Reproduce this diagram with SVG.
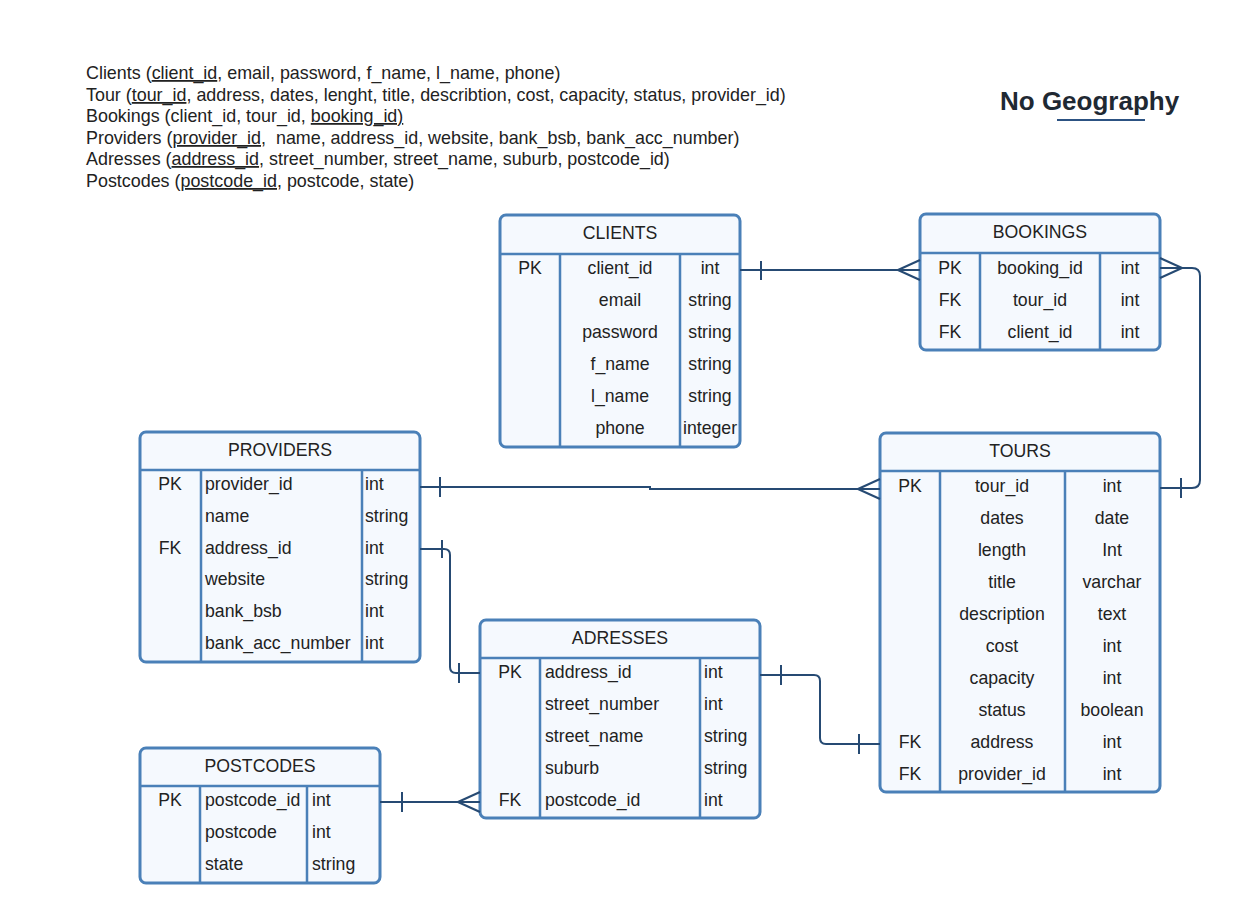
<svg xmlns="http://www.w3.org/2000/svg" width="1260" height="923" viewBox="0 0 1260 923">
<style>
text{font-family:"Liberation Sans",Arial,sans-serif;font-size:17.7px;fill:#222}
.top{font-size:17.9px}
.u{text-decoration:underline}
.title{font-size:26px;font-weight:bold;fill:#1f2933}
.box{fill:#f5f9fe;stroke:#4a80b8;stroke-width:3}
.div{stroke:#4a80b8;stroke-width:2.5;fill:none}
.c{text-anchor:middle}
.conn path{fill:none;stroke:#264a73;stroke-width:2}
</style>
<rect width="1260" height="923" fill="#fff"/>
<g id="schema-text" class="top">
<text class="top" x="86" y="79">Clients (<tspan class="u">client_id</tspan>, email, password, f_name, l_name, phone)</text>
<text class="top" x="86" y="101">Tour (<tspan class="u">tour_id</tspan>, address, dates, lenght, title, describtion, cost, capacity, status, provider_id)</text>
<text class="top" x="86" y="122">Bookings (client_id, tour_id, <tspan class="u">booking_id)</tspan></text>
<text class="top" x="86" y="144">Providers (<tspan class="u">provider_id</tspan>,&#160; name, address_id, website, bank_bsb, bank_acc_number)</text>
<text class="top" x="86" y="165">Adresses (<tspan class="u">address_id</tspan>, street_number, street_name, suburb, postcode_id)</text>
<text class="top" x="86" y="187">Postcodes (<tspan class="u">postcode_id,</tspan> postcode, state)</text>
</g>
<g id="title">
<text class="title" x="1000" y="110">No Geography</text>
<path d="M1057,120 H1145" stroke="#2c5282" stroke-width="2"/>
</g>
<g id="clients">
<rect class="box" x="500" y="215" width="240" height="232" rx="6"/>
<path class="div" d="M500,254 H740 M560,254 V447 M680,254 V447"/>
<text class="c" x="620" y="239">CLIENTS</text>
<text class="c" x="530" y="274">PK</text>
<text class="c" x="620" y="274">client_id</text><text class="c" x="710" y="274">int</text>
<text class="c" x="620" y="306">email</text><text class="c" x="710" y="306">string</text>
<text class="c" x="620" y="338">password</text><text class="c" x="710" y="338">string</text>
<text class="c" x="620" y="370">f_name</text><text class="c" x="710" y="370">string</text>
<text class="c" x="620" y="402">l_name</text><text class="c" x="710" y="402">string</text>
<text class="c" x="620" y="434">phone</text><text class="c" x="710" y="434">integer</text>
</g>
<g id="bookings">
<rect class="box" x="920" y="214" width="240" height="136" rx="6"/>
<path class="div" d="M920,253 H1160 M980,253 V350 M1100,253 V350"/>
<text class="c" x="1040" y="238">BOOKINGS</text>
<text class="c" x="950" y="274">PK</text><text class="c" x="1040" y="274">booking_id</text><text class="c" x="1130" y="274">int</text>
<text class="c" x="950" y="306">FK</text><text class="c" x="1040" y="306">tour_id</text><text class="c" x="1130" y="306">int</text>
<text class="c" x="950" y="338">FK</text><text class="c" x="1040" y="338">client_id</text><text class="c" x="1130" y="338">int</text>
</g>
<g id="providers">
<rect class="box" x="140" y="432" width="280" height="230" rx="6"/>
<path class="div" d="M140,470 H420 M201,470 V662 M362,470 V662"/>
<text class="c" x="280" y="456">PROVIDERS</text>
<text class="c" x="170" y="490">PK</text><text x="205" y="490">provider_id</text><text x="365" y="490">int</text>
<text x="205" y="522">name</text><text x="365" y="522">string</text>
<text class="c" x="170" y="554">FK</text><text x="205" y="554">address_id</text><text x="365" y="554">int</text>
<text x="205" y="585">website</text><text x="365" y="585">string</text>
<text x="205" y="617">bank_bsb</text><text x="365" y="617">int</text>
<text x="205" y="649">bank_acc_number</text><text x="365" y="649">int</text>
</g>
<g id="tours">
<rect class="box" x="880" y="433" width="280" height="359" rx="6"/>
<path class="div" d="M880,471 H1160 M940,471 V792 M1065,471 V792"/>
<text class="c" x="1020" y="457">TOURS</text>
<text class="c" x="910" y="492">PK</text><text class="c" x="1002" y="492">tour_id</text><text class="c" x="1112" y="492">int</text>
<text class="c" x="1002" y="524">dates</text><text class="c" x="1112" y="524">date</text>
<text class="c" x="1002" y="556">length</text><text class="c" x="1112" y="556">Int</text>
<text class="c" x="1002" y="588">title</text><text class="c" x="1112" y="588">varchar</text>
<text class="c" x="1002" y="620">description</text><text class="c" x="1112" y="620">text</text>
<text class="c" x="1002" y="652">cost</text><text class="c" x="1112" y="652">int</text>
<text class="c" x="1002" y="684">capacity</text><text class="c" x="1112" y="684">int</text>
<text class="c" x="1002" y="716">status</text><text class="c" x="1112" y="716">boolean</text>
<text class="c" x="910" y="748">FK</text><text class="c" x="1002" y="748">address</text><text class="c" x="1112" y="748">int</text>
<text class="c" x="910" y="780">FK</text><text class="c" x="1002" y="780">provider_id</text><text class="c" x="1112" y="780">int</text>
</g>
<g id="adresses">
<rect class="box" x="480" y="620" width="280" height="198" rx="6"/>
<path class="div" d="M480,658 H760 M540,658 V818 M700,658 V818"/>
<text class="c" x="620" y="644">ADRESSES</text>
<text class="c" x="510" y="678">PK</text><text x="545" y="678">address_id</text><text x="704" y="678">int</text>
<text x="545" y="710">street_number</text><text x="704" y="710">int</text>
<text x="545" y="742">street_name</text><text x="704" y="742">string</text>
<text x="545" y="774">suburb</text><text x="704" y="774">string</text>
<text class="c" x="510" y="806">FK</text><text x="545" y="806">postcode_id</text><text x="704" y="806">int</text>
</g>
<g id="postcodes">
<rect class="box" x="140" y="748" width="240" height="135" rx="6"/>
<path class="div" d="M140,786 H380 M200,786 V883 M307,786 V883"/>
<text class="c" x="260" y="772">POSTCODES</text>
<text class="c" x="170" y="806">PK</text><text x="205" y="806">postcode_id</text><text x="312" y="806">int</text>
<text x="205" y="838">postcode</text><text x="312" y="838">int</text>
<text x="205" y="870">state</text><text x="312" y="870">string</text>
</g>
<g id="connectors" class="conn">
<path d="M740,270 H920 M761,261 V280 M898,270 L920,260 M898,270 L920,280"/>
<path d="M1160,268 H1192 Q1200,268 1200,276 V480 Q1200,488 1192,488 H1160 M1182,268 L1160,258 M1182,268 L1160,278 M1181,478 V498"/>
<path d="M420,487 H650 V489 H880 M440,477 V497 M858,489 L880,479 M858,489 L880,499"/>
<path d="M420,549 H444 Q450,549 450,555 V667 Q450,673 456,673 H480 M442,540 V558 M459,663 V683"/>
<path d="M760,675 H814 Q820,675 820,681 V738 Q820,744 826,744 H880 M781,665 V685 M859,734 V754"/>
<path d="M380,802 H480 M402,792 V812 M458,802 L480,792 M458,802 L480,812"/>
</g>
</svg>
